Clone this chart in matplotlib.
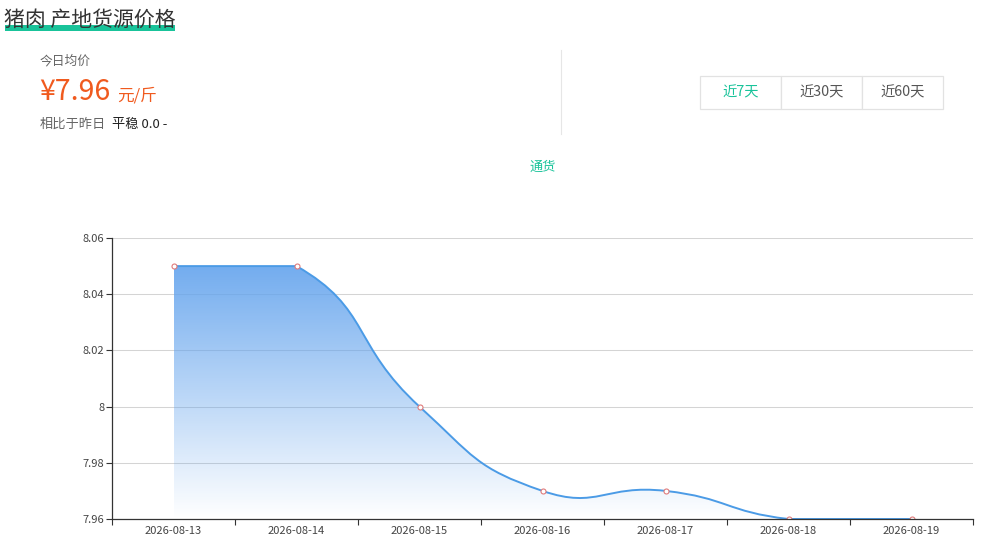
import numpy as np
import matplotlib
matplotlib.use("Agg")
import matplotlib.pyplot as plt
from matplotlib.path import Path
from matplotlib.patches import PathPatch, Rectangle
from matplotlib.lines import Line2D

plt.rcParams['font.family'] = ['Noto Sans CJK SC', 'DejaVu Sans']

# data
dates = ["2026-08-13", "2026-08-14", "2026-08-15", "2026-08-16",
         "2026-08-17", "2026-08-18", "2026-08-19"]
prices = [8.05, 8.05, 8.00, 7.97, 7.97, 7.96, 7.96]
y_ticks = [7.96, 7.98, 8.00, 8.02, 8.04, 8.06]
y_tick_labels = ["7.96", "7.98", "8", "8.02", "8.04", "8.06"]
ranges = ["近7天", "近30天", "近60天"]
series_name = "通货"

W, H = 983, 548
GREEN = "#19c39a"
ORANGE = "#f05a1e"
LINE = "#4b9be6"

fig = plt.figure(figsize=(W / 100, H / 100), dpi=100)


def fx(px):
    return px / W


def fy(py):
    return 1 - py / H


# header
fig.add_artist(Rectangle((fx(5), fy(31)), fx(170), 6 / H, transform=fig.transFigure,
                         color=GREEN, lw=0, zorder=1))
fig.text(fx(4), fy(20), "猪肉 产地货源价格", fontsize=15, color="#333333",
         va="center", ha="left", zorder=2)

fig.text(fx(40), fy(61), "今日均价", fontsize=9.2, color="#666666", va="center")
fig.text(fx(39), fy(92), "¥7.96", fontsize=20.5, color=ORANGE, va="center")
fig.text(fx(117), fy(96), "元/斤", fontsize=12, color=ORANGE, va="center")
fig.text(fx(40), fy(124), "相比于昨日", fontsize=9.5, color="#666666", va="center")
fig.text(fx(112), fy(124), "平稳 0.0 -", fontsize=9.5, color="#222222", va="center")

fig.add_artist(Line2D([fx(561), fx(561)], [fy(50), fy(134)], color="#e6e6e6", lw=0.8))

# range buttons
for i, r in enumerate(ranges):
    x0 = 700 + i * 81
    fig.add_artist(Rectangle((fx(x0), fy(109)), fx(81), 33 / H, transform=fig.transFigure,
                             facecolor="white", edgecolor="#e2e2e2", lw=0.9))
    fig.text(fx(x0 + 40.5), fy(92), r, fontsize=10.3, ha="center", va="center",
             color=GREEN if i == 0 else "#555555")

# legend text
fig.text(fx(543), fy(167), series_name, fontsize=9.5, color=GREEN, ha="center", va="center")

# chart
ax = fig.add_axes([fx(112), fy(519), 861 / W, 281 / H])
x = np.arange(len(dates))
ax.set_xlim(-0.5, len(dates) - 0.5)
ax.set_ylim(y_ticks[0], y_ticks[-1])

# smoothed curve, computed in pixel space like echarts (smooth = 0.5)
pts = ax.transData.transform(np.column_stack([x, prices]))
smooth = 0.5
lo, hi = pts.min(0), pts.max(0)
n = len(pts)
cps = []
for i in range(n):
    p = pts[i]
    if i == 0 or i == n - 1:
        cps.append((p.copy(), p.copy()))
        continue
    prev, nxt = pts[i - 1], pts[i + 1]
    v = nxt - prev
    d0 = np.hypot(*(p - prev))
    d1 = np.hypot(*(nxt - p))
    s = d0 + d1
    c_in = np.clip(p - v * smooth * d0 / s, lo, hi)
    c_out = np.clip(p + v * smooth * d1 / s, lo, hi)
    cps.append((c_in, c_out))

verts = [pts[0]]
codes = [Path.MOVETO]
for i in range(1, n):
    verts += [cps[i - 1][1], cps[i][0], pts[i]]
    codes += [Path.CURVE4] * 3
verts = ax.transData.inverted().transform(np.array(verts))
curve = Path(verts, codes)

# area with vertical gradient
base = y_ticks[0]
area_verts = np.vstack([verts, [[x[-1], base], [x[0], base], [x[0], prices[0]]]])
area_codes = codes + [Path.LINETO, Path.LINETO, Path.CLOSEPOLY]
area = PathPatch(Path(area_verts, area_codes), facecolor="none", edgecolor="none")
ax.add_patch(area)

g = np.linspace(0, 1, 256)[:, None]
rgba = np.zeros((256, 1, 4))
rgba[..., 0] = 0.39
rgba[..., 1] = 0.64
rgba[..., 2] = 0.93
rgba[..., 3] = 0.9 * (1 - g)
img = ax.imshow(rgba, extent=[x[0], x[-1], base, max(prices)], aspect="auto",
                origin="upper", zorder=2, interpolation="bilinear")
img.set_clip_path(area)
ax.set_xlim(-0.5, len(dates) - 0.5)
ax.set_ylim(y_ticks[0], y_ticks[-1])

ax.add_patch(PathPatch(curve, facecolor="none", edgecolor=LINE, lw=1.4, zorder=3))
ax.plot(x, prices, ls="none", marker="o", ms=3.6, mfc="white", mec="#e07a7a",
        mew=0.8, zorder=4)

# axes styling
for side in ["top", "right"]:
    ax.spines[side].set_visible(False)
for side in ["left", "bottom"]:
    ax.spines[side].set_color("#333333")
    ax.spines[side].set_linewidth(0.9)
    ax.spines[side].set_zorder(5)

ax.set_yticks(y_ticks)
ax.set_yticklabels(y_tick_labels)
ax.tick_params(axis="y", length=4, width=0.8, color="#333333", labelsize=8,
               labelcolor="#444444", pad=1.5)
ax.grid(axis="y", color="#d4d4d4", lw=0.75, zorder=1)
ax.set_axisbelow(True)

ax.set_xticks(x)
ax.set_xticklabels(dates)
ax.set_xticks(np.arange(len(dates) + 1) - 0.5, minor=True)
ax.tick_params(axis="x", which="major", length=0, labelsize=8, labelcolor="#444444", pad=5)
ax.tick_params(axis="x", which="minor", length=4, width=0.8, color="#333333")

fig.savefig("out.png", dpi=100)
